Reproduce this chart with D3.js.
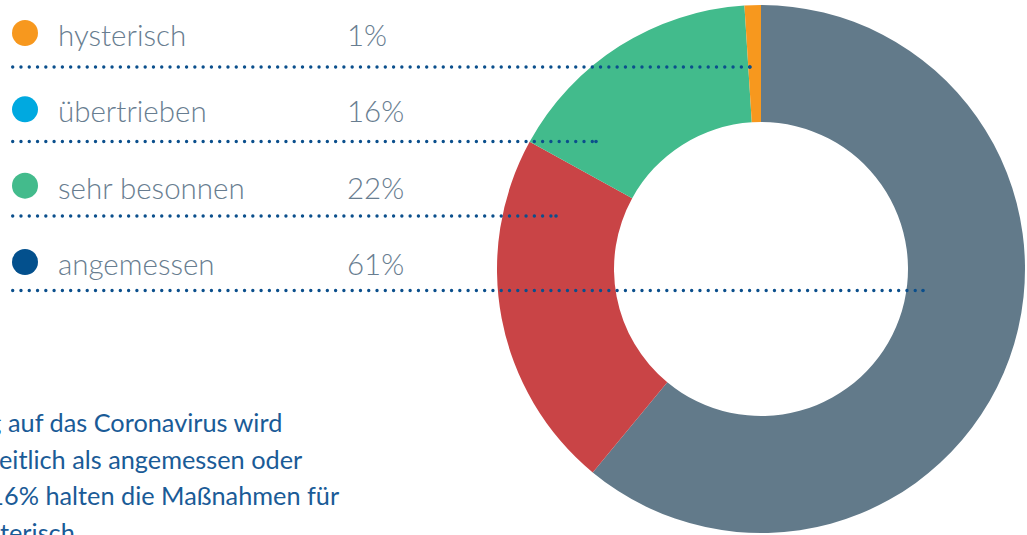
<!DOCTYPE html>
<html><head><meta charset="utf-8">
<script src="https://cdn.jsdelivr.net/npm/d3@7"></script>
<style>html,body{margin:0;padding:0;background:#fff;overflow:hidden}</style>
</head><body>
<svg id="c" width="1027" height="535"></svg>
<script>
// ---- data ----
const legendLabels = ["hysterisch", "übertrieben", "sehr besonnen", "angemessen"];
const legendValues = [1, 16, 22, 61];
const legendColors = ["#f7981e", "#00a9e0", "#43bb8c", "#03508d"];
// donut slices, clockwise from top
const sliceLabels = ["angemessen", "sehr besonnen", "übertrieben", "hysterisch"];
const sliceValues = [61, 22, 16, 1];
const sliceColors = ["#627a8a", "#c94446", "#42bb8c", "#f7981e"];
const noteLines = [
  "Die Reaktion der Bundesregierung auf das Coronavirus wird",
  "von den Befragten mehrheitlich als angemessen oder",
  "sehr besonnen bewertet. 16% halten die Maßnahmen für",
  "übertrieben, 1% für hysterisch."
];

// ---- layout ----
const svg = d3.select("#c");
const cx = 761, cy = 269, R = 264, r0 = 147;

const pie = d3.pie().sort(null).value(d => d);
const arc = d3.arc().innerRadius(r0).outerRadius(R);
const arcs = pie(sliceValues);

const g = svg.append("g").attr("transform", `translate(${cx},${cy})`);
g.selectAll("path").data(arcs).enter().append("path")
  .attr("d", arc)
  .attr("fill", (d, i) => sliceColors[i]);

// legend
const rowY = d3.scaleLinear().domain([0, 3]).range([33, 262]);
const lineY = d3.scaleLinear().domain([0, 3]).range([67, 290.5]);
const leg = svg.append("g");
leg.selectAll("circle.k").data(legendLabels).enter().append("circle")
  .attr("class", "k")
  .attr("cx", 25).attr("cy", (d, i) => rowY(i)).attr("r", 13)
  .attr("fill", (d, i) => legendColors[i]);
leg.selectAll("text.l").data(legendLabels).enter().append("text")
  .attr("class", "l")
  .attr("x", 58).attr("y", (d, i) => rowY(i) + 13)
  .attr("font-family", "Lato, 'Open Sans', sans-serif")
  .attr("font-weight", 300)
  .attr("font-size", 29.5)
  .attr("fill", "#687d90")
  .text(d => d);
leg.selectAll("text.v").data(legendValues).enter().append("text")
  .attr("class", "v")
  .attr("x", 347).attr("y", (d, i) => rowY(i) + 13)
  .attr("font-family", "Lato, 'Open Sans', sans-serif")
  .attr("font-weight", 300)
  .attr("font-size", 29.5)
  .attr("fill", "#687d90")
  .text(d => d + "%");

// leader lines ending inside the matching slice
const leaderEndX = [750, 596, 556, 923];
const dotCol = "#0b4f8c";
legendLabels.forEach((lab, i) => {
  const y = lineY(i);
  svg.append("line")
    .attr("x1", 12.7).attr("x2", leaderEndX[i])
    .attr("y1", y).attr("y2", y)
    .attr("stroke", dotCol).attr("stroke-width", 3.4)
    .attr("stroke-linecap", "round")
    .attr("stroke-dasharray", "0 8.28");
  svg.append("circle").attr("cx", leaderEndX[i]).attr("cy", y)
    .attr("r", 1.8).attr("fill", dotCol);
});

// note text (cropped at left)
const note = svg.append("g");
note.selectAll("text").data(noteLines).enter().append("text")
  .attr("x", 0)
  .attr("y", (d, i) => 432 + i * 36.5)
  .attr("font-family", "Lato, 'Open Sans', sans-serif")
  .attr("font-size", 25.3)
  .attr("fill", "#1a5b97")
  .text(d => d);

// align cropped note lines so visible parts start near the left edge
const anchors = ["auf das", "eitlich als", "6% halten", "terisch."];
const targetX = [8, -1, 4, 0];
note.selectAll("text").each(function(d, i) {
  const idx = d.indexOf(anchors[i]);
  const off = this.getSubStringLength(0, idx);
  d3.select(this).attr("x", targetX[i] - off);
});
</script>
</body></html>
